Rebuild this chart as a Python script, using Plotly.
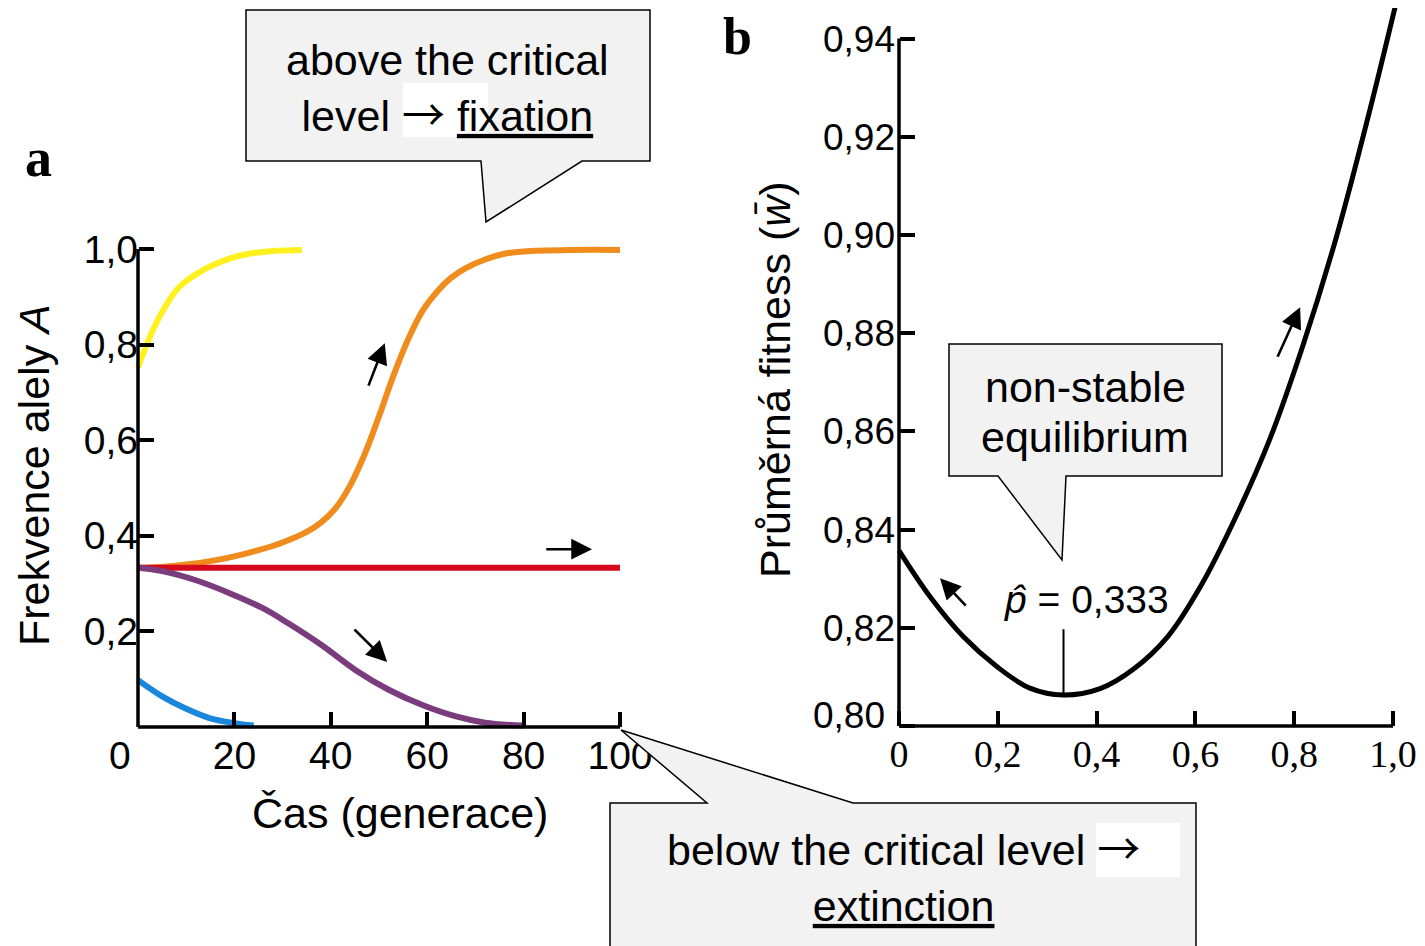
import plotly.graph_objects as go

# empirical page mapping: screen_x = 8 + (1417/1425) * fig_x, screen_y = 8 + fig_y
OFF = 8
W, H = 1425, 946 - OFF
XS = 1417.0  # screen width spanned by the figure

# ---------------- data: panel a (allele frequency over generations) ----------------
t_yellow = [0, 2.5, 5, 8.5, 13.5, 19, 23, 28, 34]
p_yellow = [0.752, 0.817, 0.868, 0.92, 0.956, 0.98, 0.99, 0.996, 0.998]

t_orange = [0, 5, 10, 15, 20, 25, 30, 35, 38, 41, 44, 47, 50, 53, 56, 59, 62, 65, 68, 72, 76, 80, 90, 100]
p_orange = [0.333, 0.335, 0.34, 0.347, 0.357, 0.37, 0.386, 0.408, 0.428, 0.458, 0.505, 0.57, 0.65,
            0.735, 0.81, 0.87, 0.91, 0.94, 0.96, 0.978, 0.99, 0.995, 0.998, 0.998]

t_red = [0, 100]
p_red = [0.333, 0.333]

t_purple = [0, 5, 12, 19, 26, 31, 38, 45, 52, 59, 66, 72, 80]
p_purple = [0.333, 0.326, 0.307, 0.28, 0.248, 0.218, 0.172, 0.12, 0.078, 0.046, 0.022, 0.009, 0.003]

t_blue = [0, 5, 10, 15, 20, 24]
p_blue = [0.098, 0.064, 0.038, 0.018, 0.008, 0.003]

a_xticks = [20, 40, 60, 80, 100]
a_xlabels = ["20", "40", "60", "80", "100"]
a_yticks = [0.2, 0.4, 0.6, 0.8, 1.0]
a_ylabels = ["0,2", "0,4", "0,6", "0,8", "1,0"]

# ---------------- data: panel b (mean fitness vs p) ----------------
p_fit = [0, 0.063, 0.130, 0.198, 0.265, 0.333, 0.407, 0.475, 0.544, 0.612, 0.680, 0.749, 0.817, 0.886, 0.954, 1.008]
w_fit = [0.8357, 0.8263, 0.8182, 0.8121, 0.8077, 0.8063, 0.8076, 0.8116, 0.8182, 0.8287, 0.8422, 0.8580,
         0.8773, 0.8998, 0.9258, 0.9480]

b_xticks = [0, 0.2, 0.4, 0.6, 0.8, 1.0]
b_xlabels = ["0", "0,2", "0,4", "0,6", "0,8", "1,0"]
b_yticks = [0.80, 0.82, 0.84, 0.86, 0.88, 0.90, 0.92, 0.94]
b_ylabels = ["", "0,82", "0,84", "0,86", "0,88", "0,90", "0,92", "0,94"]

p_hat = 0.333

SANS = "Liberation Sans, Arial, sans-serif"
SERIF = "Liberation Serif, Times New Roman, serif"


def px(x):
    return (x - OFF) / XS


def py(y):
    return 1 - (y - OFF) / H


fig = go.Figure()

LW = 6
fig.add_trace(go.Scatter(x=t_orange, y=p_orange, mode="lines", line=dict(color="#F08C1C", width=LW, shape="spline"),
                         xaxis="x", yaxis="y"))
fig.add_trace(go.Scatter(x=t_red, y=p_red, mode="lines", line=dict(color="#D40A1C", width=LW),
                         xaxis="x", yaxis="y"))
fig.add_trace(go.Scatter(x=t_purple, y=p_purple, mode="lines", line=dict(color="#7B3C7E", width=LW, shape="spline"),
                         xaxis="x", yaxis="y"))
fig.add_trace(go.Scatter(x=t_blue, y=p_blue, mode="lines", line=dict(color="#1A87DC", width=LW, shape="spline"),
                         xaxis="x", yaxis="y"))
fig.add_trace(go.Scatter(x=t_yellow, y=p_yellow, mode="lines", line=dict(color="#FFF01E", width=LW, shape="spline"),
                         xaxis="x", yaxis="y"))

fig.add_trace(go.Scatter(x=p_fit, y=w_fit, mode="lines", line=dict(color="black", width=5, shape="spline"),
                         xaxis="x2", yaxis="y2"))

tickfont_a = dict(family=SANS, size=39, color="black")

# x2 scale: 899 px at p=0, 494 px per unit; right end of figure at screen x = 1425
x2_hi = (1425 - 899) / 494.0

fig.update_layout(
    width=W, height=H,
    margin=dict(l=0, r=0, t=0, b=0),
    paper_bgcolor="white",
    plot_bgcolor="rgba(0,0,0,0)",
    showlegend=False,
    xaxis=dict(domain=[px(113.9), px(644.1)], range=[-5, 105], anchor="free", position=py(727),
               showline=False, showgrid=False, zeroline=False,
               ticks="inside", ticklen=15, tickwidth=3.5, tickcolor="black", ticklabelstandoff=2,
               tickvals=a_xticks, ticktext=a_xlabels, tickfont=tickfont_a),
    yaxis=dict(domain=[py(750.9), py(225.1)], range=[-0.05, 1.05], anchor="free", position=px(138),
               showline=False, showgrid=False, zeroline=False,
               ticks="inside", ticklen=15, tickwidth=3.5, tickcolor="black",
               tickvals=a_yticks, ticktext=a_ylabels, tickfont=tickfont_a),
    xaxis2=dict(domain=[px(884.18), 1.0], range=[-0.03, x2_hi], anchor="free", position=py(726),
                showline=False, showgrid=False, zeroline=False,
                ticks="inside", ticklen=15, tickwidth=3.5, tickcolor="black", ticklabelstandoff=2,
                tickvals=b_xticks, ticktext=b_xlabels, tickfont=dict(family=SERIF, size=38, color="black")),
    yaxis2=dict(domain=[py(740.7), 1.0], range=[0.797, 0.80 + (726 - OFF) / 4910], anchor="free",
                position=px(899),
                showline=False, showgrid=False, zeroline=False,
                ticks="inside", ticklen=15, tickwidth=3.5, tickcolor="black", ticklabelstandoff=4,
                tickvals=b_yticks, ticktext=b_ylabels, tickfont=dict(family=SANS, size=37, color="black")),
)

shapes = []
# axis lines
shapes.append(dict(type="line", xref="x", yref="y", x0=0, y0=0, x1=100, y1=0, line=dict(color="black", width=3.5)))
shapes.append(dict(type="line", xref="x", yref="y", x0=0, y0=0, x1=0, y1=1.0, line=dict(color="black", width=3.5)))
shapes.append(dict(type="line", xref="x2", yref="y2", x0=0, y0=0.80, x1=1.0, y1=0.80, line=dict(color="black", width=3.5)))
shapes.append(dict(type="line", xref="x2", yref="y2", x0=0, y0=0.80, x1=0, y1=0.94, line=dict(color="black", width=3.5)))
# equilibrium marker
shapes.append(dict(type="line", xref="x2", yref="y2", x0=p_hat, y0=0.8065, x1=p_hat, y1=0.8197,
                   line=dict(color="black", width=2)))


def callout(points):
    d = "M " + " L ".join(f"{px(x):.5f},{py(y):.5f}" for x, y in points) + " Z"
    return dict(type="path", xref="paper", yref="paper", path=d, fillcolor="#F2F2F2",
                line=dict(color="black", width=1.5), layer="above")


shapes.append(callout([(246, 10), (650, 10), (650, 161), (582, 161), (486, 222), (481, 161), (246, 161)]))
shapes.append(callout([(610, 803), (707, 803), (621, 730), (853, 803), (1196, 803), (1196, 952), (610, 952)]))
shapes.append(callout([(949, 344), (1222, 344), (1222, 476), (1066, 476), (1062, 560), (998, 476), (949, 476)]))
# white patches behind the arrows in the callout texts
for x0, y0, x1, y1 in [(403, 83, 488, 137), (1096, 823, 1180, 877)]:
    shapes.append(dict(type="rect", xref="paper", yref="paper", x0=px(x0), x1=px(x1), y0=py(y1), y1=py(y0),
                       fillcolor="white", line=dict(width=0), layer="above"))

fig.update_layout(shapes=shapes)

ann = []


def text(x, y, s, size, family=SANS, angle=0, xanchor="center", yanchor="middle"):
    ann.append(dict(x=px(x), y=py(y), xref="paper", yref="paper", text=s, showarrow=False,
                    font=dict(family=family, size=size, color="black"), textangle=angle,
                    xanchor=xanchor, yanchor=yanchor))


ARW = "<span style='font-family:Noto Sans CJK JP'>\u2192</span>"
text(447, 89, f"above the critical<br>level {ARW} <u>fixation</u>", 43)
text(903, 872, f"below the critical level {ARW}<br><u>extinction</u>", 43)
text(1085, 387, "non-stable", 43)
text(1085, 437, "equilibrium", 43)

text(34, 475, "Frekvence alely <i>A</i>", 43, angle=-90)
text(400, 813, "\u010cas (generace)", 43)
text(120, 755, "0", 39)
text(775, 380, "Pr\u016fm\u011brn\u00e1 fitness (<i>w\u0304</i>)", 43, angle=-90)
text(38, 158, "<b>a</b>", 54, family=SERIF)
text(737, 37, "<b>b</b>", 52, family=SERIF)
text(887, 715, "0,80", 37, xanchor="right")

# p-hat label in data coords
ann.append(dict(x=0.379, y=0.8257, xref="x2", yref="y2", text="<i>p\u0302</i> = 0,333", showarrow=False,
                font=dict(family=SANS, size=39, color="black")))


def arrow(x0, y0, x1, y1, xr, yr):
    ann.append(dict(x=x1, y=y1, ax=x0, ay=y0, xref=xr, yref=yr, axref=xr, ayref=yr, text="",
                    showarrow=True, arrowhead=2, arrowsize=1.6, arrowwidth=2.6, arrowcolor="black"))


arrow(47.7, 0.711, 51.2, 0.803, "x", "y")
arrow(84.4, 0.372, 94.2, 0.372, "x", "y")
arrow(44.6, 0.207, 51.7, 0.136, "x", "y")
arrow(0.138, 0.8242, 0.083, 0.8301, "x2", "y2")
arrow(0.765, 0.8749, 0.812, 0.8853, "x2", "y2")

fig.update_layout(annotations=ann)

fig.write_html("out.html")
